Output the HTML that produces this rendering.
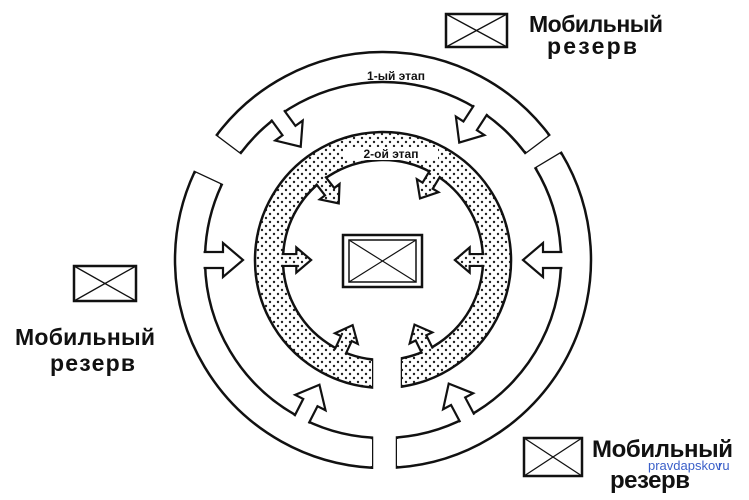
<!DOCTYPE html>
<html><head><meta charset="utf-8"><style>
html,body{margin:0;padding:0;background:#fff;}
svg{display:block}
.t{font-family:"Liberation Sans",sans-serif;font-weight:bold;fill:#111}
</style></head><body>
<svg id="s" width="749" height="500" viewBox="0 0 749 500" xmlns="http://www.w3.org/2000/svg">
<defs>
<pattern id="dots" width="8" height="8" patternUnits="userSpaceOnUse">
<rect width="8" height="8" fill="#fff"/>
<circle cx="2" cy="2" r="1.2" fill="#222"/>
<circle cx="6" cy="6" r="1.2" fill="#222"/>
</pattern>
</defs>
<g id="g"></g>
<rect x="343" y="235" width="79" height="52" fill="#fff" stroke="#111" stroke-width="2.5"/>
<rect x="349" y="240" width="67" height="42" fill="none" stroke="#111" stroke-width="1.5"/>
<line x1="349" y1="240" x2="416" y2="282" stroke="#111" stroke-width="1.2"/>
<line x1="416" y1="240" x2="349" y2="282" stroke="#111" stroke-width="1.2"/>
<g stroke="#111" fill="none">
<rect x="446" y="14" width="61" height="33" stroke-width="2.5"/>
<line x1="446" y1="14" x2="507" y2="47" stroke-width="1.3"/><line x1="507" y1="14" x2="446" y2="47" stroke-width="1.3"/>
<rect x="74" y="266" width="62" height="35" stroke-width="2.5"/>
<line x1="74" y1="266" x2="136" y2="301" stroke-width="1.3"/><line x1="136" y1="266" x2="74" y2="301" stroke-width="1.3"/>
<rect x="524" y="438" width="58" height="38" stroke-width="2.5"/>
<line x1="524" y1="438" x2="582" y2="476" stroke-width="1.3"/><line x1="582" y1="438" x2="524" y2="476" stroke-width="1.3"/>
</g>
<text class="t" x="529" y="32" font-size="23" textLength="134">Мобильный</text>
<text class="t" x="547" y="54" font-size="23" textLength="90">резерв</text>
<text class="t" x="15" y="345" font-size="23" textLength="140">Мобильный</text>
<text class="t" x="50" y="371" font-size="23" textLength="85">резерв</text>
<text class="t" x="592" y="457" font-size="24" textLength="141">Мобильный</text>
<text class="t" x="610" y="488" font-size="24" textLength="80">резерв</text>
<text x="648" y="470" font-family="Liberation Sans,sans-serif" font-size="13" fill="#3a5fc8">pravdapskov</text>
<text x="718" y="470" font-family="Liberation Sans,sans-serif" font-size="13" fill="#3a5fc8">ru</text>
</svg>
<script>
const cx=383,cy=260,NS="http://www.w3.org/2000/svg",g=document.getElementById('g');
function P(r,a){a=a*Math.PI/180;return [cx+r*Math.cos(a),cy-r*Math.sin(a)];}
function vx(r,x){return [x,cy+Math.sqrt(r*r-(x-cx)*(x-cx))];}
function el(t,at,txt){const e=document.createElementNS(NS,t);for(const k in at)e.setAttribute(k,at[k]);if(txt)e.textContent=txt;g.appendChild(e);return e;}
function seg(R,r,a1,a2,e1,e2){
 const o1=e1!=null?vx(R,e1):P(R,a1), o2=e2!=null?vx(R,e2):P(R,a2);
 const i1=e1!=null?vx(r,e1):P(r,a1), i2=e2!=null?vx(r,e2):P(r,a2);
 const large=(a1-a2)>180?1:0;
 return `M${o1} A${R},${R} 0 ${large} 1 ${o2} L${i2} A${r},${r} 0 ${large} 0 ${i1} Z`;
}
function arrow(rin,a,sc,fill){
 const s0=-12*sc, hw=8*sc, s1=18*sc, hh=17*sc, s2=38*sc;
 const pts=[[s0,-hw],[s1,-hw],[s1,-hh],[s2,0],[s1,hh],[s1,hw],[s0,hw]];
 const ar=a*Math.PI/180, ux=-Math.cos(ar), uy=Math.sin(ar), vx_=-uy, vy=ux;
 const bx=cx+rin*Math.cos(ar), by=cy-rin*Math.sin(ar);
 const d=pts.map(p=>[bx+p[0]*ux+p[1]*vx_, by+p[0]*uy+p[1]*vy].join(',')).join(' ');
 el('polygon',{points:d,fill:fill,stroke:'#111','stroke-width':2.2});
}
function ring(R,r,segs,arrows,fill,sc){
 segs.forEach(s=>el('path',{d:seg(R,r,...s),fill:fill,stroke:'#111','stroke-width':2.5}));
 arrows.forEach(a=>arrow(r,a,sc,fill));
 segs.forEach(s=>el('path',{d:seg(R-1.6,r+1.6,...s),fill:fill,stroke:'none'}));
}
ring(208,178,[[143,37,null,null],[31,-86,null,397],[266,155,372,null]],[126,57,0,180,243,-62],'#fff',1);
ring(128,100,[[262,-82,372,402]],[128,59,0,180,245,-64],'url(#dots)',0.74);
el('text',{class:'t',x:396,y:80,'font-size':12,'text-anchor':'middle'},'1-ый этап');
el('rect',{x:343,y:147,width:95,height:13,fill:'#fff'});
el('text',{class:'t',x:391,y:158,'font-size':12,'text-anchor':'middle'},'2-ой этап');
</script>
</body></html>
